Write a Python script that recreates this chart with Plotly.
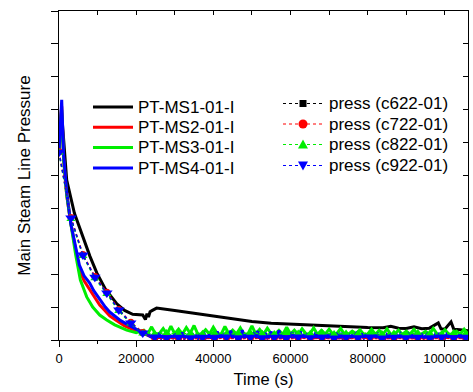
import plotly.graph_objects as go

# ---------------- data ----------------
# PT-MS1-01-I (black)
t_ms1 = [0, 600, 1200, 2000, 4000, 6150, 8000, 9800, 12000, 15000, 17000, 19100, 21700,
         22400, 22800, 23200, 23600, 24200, 25300, 30000, 35000, 40000, 45000, 50000, 55000,
         60000, 65000, 70000, 75000, 80000, 84000, 86000, 88000, 90000, 92000, 94000, 96000,
         98300, 99000, 100000, 101600, 102300, 104000, 106000]
v_ms1 = [5.71, 7.0, 6.1, 4.86, 3.85, 3.13, 2.55, 2.04, 1.55, 1.10, 0.90, 0.78, 0.76,
         0.62, 0.80, 0.70, 0.86, 0.90, 0.97, 0.90, 0.82, 0.73, 0.64, 0.56, 0.51,
         0.48, 0.45, 0.42, 0.40, 0.38, 0.37, 0.42, 0.36, 0.35, 0.40, 0.34, 0.36,
         0.52, 0.34, 0.33, 0.55, 0.33, 0.31, 0.28]

# PT-MS2-01-I (red)
t_ms2 = [0, 700, 1200, 2000, 3030, 4000, 5280, 6500, 7960, 9000, 10550, 12000, 13140, 14500,
         15740, 17000, 18330, 20000, 21700, 23000,
         24000, 26000, 28000, 30000, 32000, 34000, 36000, 38000, 40000, 42000,
         44000, 46000, 48000, 50000, 52000, 54000, 56000, 58000, 60000, 62000,
         64000, 66000, 68000, 70000, 72000, 74000, 76000, 78000, 80000, 82000,
         84000, 86000, 88000, 90000, 92000, 94000, 96000, 98000, 100000, 102000,
         104000, 106000]
v_ms2 = [5.71, 7.1, 5.5, 4.4, 3.56, 2.9, 2.13, 1.80, 1.52, 1.35, 1.06, 0.88, 0.73, 0.62,
         0.52, 0.43, 0.36, 0.28, 0.21, 0.14,
         0.10, 0.08, 0.12, 0.07, 0.11, 0.09, 0.13, 0.07, 0.10, 0.12,
         0.08, 0.11, 0.09, 0.13, 0.07, 0.10, 0.12, 0.08, 0.11, 0.09,
         0.12, 0.07, 0.10, 0.13, 0.08, 0.11, 0.09, 0.12, 0.07, 0.10,
         0.12, 0.08, 0.11, 0.09, 0.13, 0.08, 0.10, 0.12, 0.07, 0.11,
         0.09, 0.10]

# PT-MS3-01-I (green)
t_ms3 = [0, 700, 1200, 2000, 3030, 4330, 5540, 7180, 8740, 10550, 12370, 14440, 17550, 20000,
         22000, 23000, 24000, 25000, 26000, 27000, 28000, 29000, 30000, 31000,
         32000, 33000, 34000, 35000, 36000, 37000, 38000, 39000, 40000, 41000,
         42000, 43000, 44000, 45000, 46000, 47000, 48000, 49000, 50000, 51000,
         52000, 53000, 54000, 55000, 56000, 57000, 58000, 59000, 60000, 61000,
         62000, 63000, 64000, 65000, 66000, 67000, 68000, 69000, 70000, 71000,
         72000, 73000, 74000, 75000, 76000, 77000, 78000, 79000, 80000, 81000,
         82000, 83000, 84000, 85000, 86000, 87000, 88000, 89000, 90000, 91000,
         92000, 93000, 94000, 95000, 96000, 97000, 98000, 99000, 100000, 101000,
         102000, 103000, 104000, 105000, 106000]
v_ms3 = [5.71, 7.0, 5.47, 4.4, 3.56, 2.58, 1.82, 1.31, 1.00, 0.76, 0.61, 0.46, 0.30, 0.22,
         0.30, 0.19, 0.40, 0.18, 0.20, 0.35, 0.17, 0.42, 0.19, 0.33,
         0.18, 0.38, 0.20, 0.44, 0.17, 0.19, 0.31, 0.18, 0.39, 0.20,
         0.17, 0.41, 0.19, 0.30, 0.18, 0.37, 0.17, 0.19, 0.43, 0.18,
         0.32, 0.17, 0.36, 0.19, 0.18, 0.29, 0.17, 0.39, 0.18, 0.30,
         0.17, 0.34, 0.19, 0.18, 0.37, 0.17, 0.29, 0.18, 0.33, 0.17,
         0.19, 0.35, 0.17, 0.18, 0.27, 0.19, 0.31, 0.17, 0.18, 0.33,
         0.17, 0.29, 0.18, 0.34, 0.17, 0.18, 0.30, 0.17, 0.27, 0.18,
         0.32, 0.17, 0.18, 0.26, 0.17, 0.35, 0.18, 0.17, 0.31, 0.18,
         0.17, 0.27, 0.18, 0.33, 0.17]

# PT-MS4-01-I (blue)
t_ms4 = [0, 700, 1200, 2000, 3030, 4000, 5280, 6500, 7960, 9000, 10550, 12000, 13140, 14500,
         15740, 17000, 18330, 20000, 21700, 23000,
         24000, 24500, 25000, 25500, 26000, 26500, 27000, 27500, 28000, 28500,
         29000, 29500, 30000, 30500, 31000, 31500, 32000, 32500, 33000, 33500,
         34000, 34500, 35000, 35500, 36000, 36500, 37000, 37500, 38000, 38500,
         39000, 39500, 40000, 40500, 41000, 41500, 42000, 42500, 43000, 43500,
         44000, 44500, 45000, 45500, 46000, 46500, 47000, 47500, 48000, 48500,
         49000, 49500, 50000, 50500, 51000, 51500, 52000, 52500, 53000, 53500,
         54000, 54500, 55000, 55500, 56000, 56500, 57000, 57500, 58000, 58500,
         59000, 59500, 60000, 60500, 61000, 61500, 62000, 62500, 63000, 63500,
         64000, 64500, 65000, 65500, 66000, 66500, 67000, 67500, 68000, 68500,
         69000, 69500, 70000, 70500, 71000, 71500, 72000, 72500, 73000, 73500,
         74000, 74500, 75000, 75500, 76000, 76500, 77000, 77500, 78000, 78500,
         79000, 79500, 80000, 80500, 81000, 81500, 82000, 82500, 83000, 83500,
         84000, 84500, 85000, 85500, 86000, 86500, 87000, 87500, 88000, 88500,
         89000, 89500, 90000, 90500, 91000, 91500, 92000, 92500, 93000, 93500,
         94000, 94500, 95000, 95500, 96000, 96500, 97000, 97500, 98000, 98500,
         99000, 99500, 100000, 100500, 101000, 101500, 102000, 102500, 103000, 103500,
         104000, 104500, 105000, 105500, 106000]
v_ms4 = [5.71, 7.30, 5.6, 4.5, 3.56, 3.0, 2.28, 1.95, 1.73, 1.50, 1.22, 1.00, 0.85, 0.72,
         0.61, 0.52, 0.43, 0.33, 0.24, 0.16,
         0.10, 0.05, 0.16, 0.08, 0.21, 0.06, 0.13, 0.09, 0.18, 0.05,
         0.12, 0.07, 0.19, 0.06, 0.14, 0.10, 0.22, 0.05, 0.11, 0.16,
         0.07, 0.20, 0.09, 0.13, 0.05, 0.17, 0.08, 0.24, 0.06, 0.12,
         0.15, 0.05, 0.19, 0.09, 0.26, 0.07, 0.14, 0.10, 0.21, 0.06,
         0.13, 0.28, 0.08, 0.17, 0.05, 0.22, 0.11, 0.30, 0.07, 0.15,
         0.09, 0.24, 0.06, 0.18, 0.12, 0.27, 0.05, 0.16, 0.10, 0.21,
         0.07, 0.14, 0.25, 0.08, 0.19, 0.06, 0.29, 0.11, 0.15, 0.05,
         0.20, 0.09, 0.13, 0.23, 0.06, 0.17, 0.10, 0.26, 0.07, 0.14,
         0.11, 0.19, 0.05, 0.16, 0.09, 0.22, 0.06, 0.13, 0.18, 0.08,
         0.15, 0.05, 0.20, 0.10, 0.12, 0.07, 0.17, 0.09, 0.21, 0.06,
         0.13, 0.08, 0.18, 0.05, 0.14, 0.11, 0.19, 0.07, 0.12, 0.16,
         0.06, 0.15, 0.09, 0.20, 0.05, 0.13, 0.10, 0.17, 0.08, 0.14,
         0.11, 0.05, 0.16, 0.09, 0.19, 0.07, 0.12, 0.15, 0.06, 0.18,
         0.10, 0.13, 0.07, 0.17, 0.09, 0.14, 0.05, 0.20, 0.11, 0.08,
         0.15, 0.06, 0.12, 0.18, 0.09, 0.13, 0.07, 0.16, 0.10, 0.21,
         0.08, 0.14, 0.06, 0.17, 0.11, 0.13, 0.07, 0.19, 0.09, 0.12,
         0.16, 0.08, 0.13, 0.10, 0.18]

# press series (sparse, with markers)
t_press = [0, 3100, 6200, 9300, 12400, 15500, 18600, 21700, 24800, 27900, 31000, 34100,
           37200, 40300, 43400, 46500, 49600, 52700, 55800, 58900, 62000, 65100, 68200,
           71300, 74400, 77500, 80600, 83700, 86800, 89900, 93000, 96100, 99200, 102300,
           105400]
v_c622 = [5.71, 3.71, 2.58, 1.91, 1.43, 0.91, 0.52, 0.21, 0.09, 0.07, 0.08, 0.06,
          0.08, 0.07, 0.09, 0.06, 0.08, 0.07, 0.08, 0.06, 0.09, 0.07, 0.08,
          0.06, 0.08, 0.07, 0.09, 0.06, 0.08, 0.07, 0.08, 0.06, 0.09, 0.07, 0.08]
v_c722 = [5.72, 3.72, 2.60, 1.93, 1.45, 0.93, 0.54, 0.23, 0.06, 0.04, 0.05, 0.03,
          0.05, 0.04, 0.06, 0.03, 0.05, 0.04, 0.05, 0.03, 0.06, 0.04, 0.05,
          0.03, 0.05, 0.04, 0.06, 0.03, 0.05, 0.04, 0.05, 0.03, 0.06, 0.04, 0.05]
v_c822 = [5.70, 3.68, 2.55, 1.88, 1.40, 0.88, 0.50, 0.20, 0.19, 0.21, 0.18, 0.20,
          0.19, 0.22, 0.18, 0.20, 0.21, 0.19, 0.18, 0.21, 0.20, 0.19, 0.22,
          0.18, 0.20, 0.19, 0.21, 0.18, 0.20, 0.19, 0.21, 0.20, 0.18, 0.21, 0.19]
v_c922 = [5.71, 3.71, 2.58, 1.91, 1.43, 0.91, 0.52, 0.21, 0.09, 0.07, 0.08, 0.06,
          0.08, 0.07, 0.09, 0.06, 0.08, 0.07, 0.08, 0.06, 0.09, 0.07, 0.08,
          0.06, 0.08, 0.07, 0.09, 0.06, 0.08, 0.07, 0.08, 0.06, 0.09, 0.07, 0.08]

pt_names = ["PT-MS1-01-I", "PT-MS2-01-I", "PT-MS3-01-I", "PT-MS4-01-I"]
press_names = ["press (c622-01)", "press (c722-01)", "press (c822-01)", "press (c922-01)"]
colors = ["#000000", "#ff0000", "#00ee00", "#0000ff"]
symbols = ["square", "circle", "triangle-up", "triangle-down"]
msizes = [5, 7, 8, 10]

FONT = "Arial, 'Liberation Sans', sans-serif"

fig = go.Figure()

# c622 drawn first (it sits underneath the other series, as in the original)
fig.add_trace(go.Scatter(x=t_press, y=v_c622, mode="lines+markers", name=press_names[0],
                         line=dict(color=colors[0], width=1, dash="dot"),
                         marker=dict(symbol=symbols[0], size=msizes[0], color=colors[0]),
                         showlegend=False))

pt_data = [(t_ms1, v_ms1), (t_ms2, v_ms2), (t_ms3, v_ms3), (t_ms4, v_ms4)]
for (tx, vy), name, c in zip(pt_data, pt_names, colors):
    fig.add_trace(go.Scatter(x=tx, y=vy, mode="lines", name=name,
                             line=dict(color=c, width=3), showlegend=False))

press_rest = [v_c722, v_c822, v_c922]
for vy, name, c, s, ms in zip(press_rest, press_names[1:], colors[1:], symbols[1:], msizes[1:]):
    fig.add_trace(go.Scatter(x=t_press, y=vy, mode="lines+markers", name=name,
                             line=dict(color=c, width=1.5, dash="dot"),
                             marker=dict(symbol=s, size=ms, color=c),
                             showlegend=False))

# dummy trace to realise the mirrored axes
fig.add_trace(go.Scatter(x=[None], y=[None], xaxis="x2", yaxis="y2",
                         showlegend=False, hoverinfo="skip"))

XR = [0, 106000]
YR = [0, 10]

# ---------- hand-built legends (pixel layout -> paper coords) ----------
L, R, T, B = 59, 468, 11, 340
def PX(x):
    return (x - L) / (R - L)
def PY(y):
    return (B - y) / (B - T)

shapes = []
annotations = []
rows1 = [107, 127.3, 147.6, 168]
for name, c, y in zip(pt_names, colors, rows1):
    shapes.append(dict(type="line", xref="paper", yref="paper",
                       x0=PX(93), x1=PX(133), y0=PY(y), y1=PY(y),
                       line=dict(color=c, width=3)))
    annotations.append(dict(text=name, xref="paper", yref="paper",
                            x=PX(135.5), y=PY(y), xanchor="left", yanchor="middle",
                            showarrow=False, font=dict(size=17, family=FONT, color="black")))

rows2 = [103.5, 124, 144.5, 165.5]
for name, c, s, y in zip(press_names, colors, symbols, rows2):
    shapes.append(dict(type="line", xref="paper", yref="paper",
                       x0=PX(283), x1=PX(323), y0=PY(y), y1=PY(y),
                       line=dict(color=c, width=1, dash="dot")))
    cx, cy = 303, y
    if s == "square":
        shapes.append(dict(type="rect", xref="paper", yref="paper",
                           x0=PX(cx - 3.5), x1=PX(cx + 3.5), y0=PY(cy + 3.5), y1=PY(cy - 3.5),
                           fillcolor=c, line=dict(color=c, width=0)))
    elif s == "circle":
        shapes.append(dict(type="circle", xref="paper", yref="paper",
                           x0=PX(cx - 4.5), x1=PX(cx + 4.5), y0=PY(cy + 4.5), y1=PY(cy - 4.5),
                           fillcolor=c, line=dict(color=c, width=0)))
    else:
        if s == "triangle-up":
            pts = [(cx - 5, cy + 4), (cx + 5, cy + 4), (cx, cy - 5)]
        else:
            pts = [(cx - 5, cy - 4), (cx + 5, cy - 4), (cx, cy + 5)]
        path = "M {:.5f} {:.5f} L {:.5f} {:.5f} L {:.5f} {:.5f} Z".format(
            PX(pts[0][0]), PY(pts[0][1]), PX(pts[1][0]), PY(pts[1][1]),
            PX(pts[2][0]), PY(pts[2][1]))
        shapes.append(dict(type="path", xref="paper", yref="paper", path=path,
                           fillcolor=c, line=dict(color=c, width=0)))
    annotations.append(dict(text=name, xref="paper", yref="paper",
                            x=PX(326.5), y=PY(y), xanchor="left", yanchor="middle",
                            showarrow=False, font=dict(size=17, family=FONT, color="black")))

fig.update_layout(
    width=473, height=392,
    margin=dict(l=L, r=473 - R, t=T, b=392 - B),
    paper_bgcolor="white", plot_bgcolor="white",
    font=dict(family=FONT, color="black"),
    showlegend=False,
    shapes=shapes,
    annotations=annotations,
    xaxis=dict(range=XR, showgrid=False, zeroline=False, showline=True,
               linecolor="black", linewidth=1, ticks="outside", ticklen=6,
               tickcolor="black", tick0=0, dtick=20000, tickformat="d",
               tickfont=dict(size=13, family=FONT),
               minor=dict(ticks="outside", ticklen=3, dtick=10000, tick0=0,
                          tickcolor="black", showgrid=False),
               title=dict(text="Time (s)", font=dict(size=16.5, family=FONT),
                          standoff=8)),
    yaxis=dict(range=YR, showgrid=False, zeroline=False, showline=True,
               linecolor="black", linewidth=1, ticks="outside", ticklen=7,
               tickcolor="black", tick0=0, dtick=1, showticklabels=False,
               title=dict(text="Main Steam Line Pressure",
                          font=dict(size=17, family=FONT), standoff=16)),
    xaxis2=dict(range=XR, overlaying="x", side="top", anchor="y",
                showgrid=False, zeroline=False, showline=True, linecolor="black",
                linewidth=1, ticks="inside", ticklen=4, tickcolor="black",
                tick0=0, dtick=10000, showticklabels=False),
    yaxis2=dict(range=YR, overlaying="y", side="right", anchor="x",
                showgrid=False, zeroline=False, showline=True, linecolor="black",
                linewidth=1, ticks="inside", ticklen=5, tickcolor="black",
                tick0=0, dtick=1, showticklabels=False),
)

fig.write_html("out.html")
